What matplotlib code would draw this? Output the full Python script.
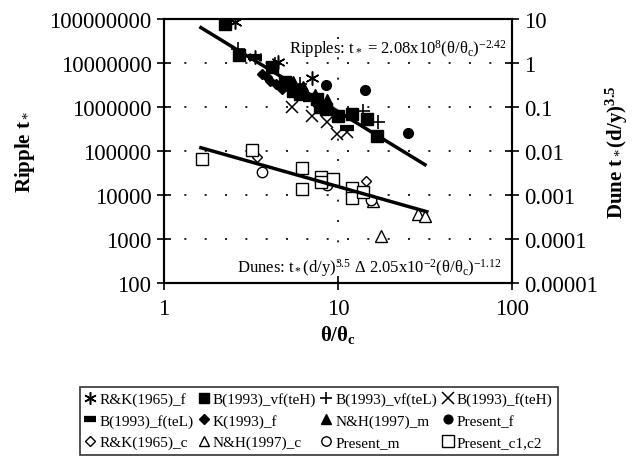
import matplotlib
matplotlib.use("Agg")
import matplotlib.pyplot as plt
import numpy as np

plt.rcParams['font.family'] = ['Liberation Serif', 'DejaVu Serif']
plt.rcParams['mathtext.fontset'] = 'custom'
plt.rcParams['mathtext.rm'] = 'Liberation Serif'
plt.rcParams['mathtext.it'] = 'Liberation Serif:italic'
plt.rcParams['mathtext.bf'] = 'Liberation Serif:bold'

# ---- ripple data (left axis) ----
rk65_f_x = [2.56, 3.33, 4.52, 7.09]
rk65_f_y = [8.5e7, 1.37e7, 1.05e7, 4.6e6]

b93_vf_teh_x = [2.24, 2.70, 4.18, 4.96, 5.5, 6.05, 7.57, 7.88, 8.5, 10.0, 12.0, 14.7, 16.8]
b93_vf_teh_y = [7.7e7, 1.52e7, 8.1e6, 3.7e6, 2.3e6, 1.97e6, 1.52e6, 1.0e6, 9e5, 6.2e5, 6.9e5, 5.3e5, 2.2e5]

b93_vf_tel_x = [2.66, 4.34, 6.05, 13.9, 17.0]
b93_vf_tel_y = [2.1e7, 9.5e6, 3.3e6, 8.1e5, 4.6e5]

b93_f_teh_x = [5.44, 7.09, 8.64, 9.87, 11.3]
b93_f_teh_y = [1.0e6, 6.2e5, 4.6e5, 2.4e5, 2.7e5]

b93_f_tel_x = [3.33, 5.89, 6.90, 7.88, 11.3]
b93_f_tel_y = [1.37e7, 2.85e6, 1.52e6, 1.17e6, 3.3e5]

k93_f_x = [3.66, 3.91, 4.07, 4.40, 4.77, 5.30, 5.66, 6.46]
k93_f_y = [5.6e6, 4.8e6, 3.9e6, 3.3e6, 2.57e6, 2.57e6, 2.31e6, 1.78e6]

nh97_m_x = [5.51, 6.29, 7.38, 8.64, 9.0]
nh97_m_y = [3.9e6, 3.0e6, 1.97e6, 1.52e6, 1.0e6]

present_f_x = [8.53, 14.3, 25.2]
present_f_y = [3.2e6, 2.4e6, 2.6e5]

# ---- dune data (right axis) ----
rk65_c_x = [3.42, 14.5]
rk65_c_y = [7.3e-3, 2.1e-3]

nh97_c_x = [15.9, 17.7, 28.8, 31.6]
nh97_c_y = [7.3e-4, 1.17e-4, 3.7e-4, 3.3e-4]

present_m_x = [3.66, 8.64, 15.5]
present_m_y = [3.3e-3, 1.69e-3, 7.7e-4]

present_c_x = [1.65, 3.2, 6.21, 6.21, 7.98, 7.98, 9.36, 12.0, 12.0, 13.9]
present_c_y = [6.6e-3, 1.05e-2, 4.1e-3, 1.37e-3, 2.57e-3, 1.97e-3, 2.3e-3, 1.44e-3, 8.5e-4, 1.17e-3]

# fitted power laws
ripple_fit = (2.08e8, -2.42)
ripple_fit_range = [1.63, 31.6]
dune_fit = (2.05e-2, -1.12)
dune_fit_range = [1.63, 32.4]

left_ticks = [1e2, 1e3, 1e4, 1e5, 1e6, 1e7, 1e8]
left_labels = ['100', '1000', '10000', '100000', '1000000', '10000000', '100000000']
right_ticks = [1e-5, 1e-4, 1e-3, 1e-2, 1e-1, 1, 10]
right_labels = ['0.00001', '0.0001', '0.001', '0.01', '0.1', '1', '10']
x_ticks = [1, 10, 100]
x_labels = ['1', '10', '100']

fig = plt.figure(figsize=(6.38, 4.64), dpi=100)
ax = fig.add_axes([164 / 638, 1 - 284 / 464, 348 / 638, 264 / 464])
ax2 = ax.twinx()

for a in (ax, ax2):
    a.set_xscale('log')
    a.set_yscale('log')
    for s in a.spines.values():
        s.set_linewidth(1.5)
ax.set_xlim(1, 100)
ax.set_ylim(1e2, 1e8)
ax2.set_ylim(1e-5, 10)

# grid (dotted)
for yv in left_ticks[1:-1]:
    ax.axhline(yv, color='black', lw=1.2, ls=(0, (1.2, 11)), zorder=0)
ax.axvline(10, color='black', lw=1.2, ls=(0, (1.2, 11)), zorder=0)

k = dict(color='black', linestyle='none')
h = {}
h['rk65_f'], = ax.plot(rk65_f_x, rk65_f_y, marker=(6, 2, 0), ms=10, mew=1.1, label='R&K(1965)_f', **k)
h['b_vf_teh'], = ax.plot(b93_vf_teh_x, b93_vf_teh_y, marker='s', ms=8, label='B(1993)_vf(teH)', **k)
h['b_vf_tel'], = ax.plot(b93_vf_tel_x, b93_vf_tel_y, marker='+', ms=10, mew=1.2, label='B(1993)_vf(teL)', **k)
h['b_f_teh'], = ax.plot(b93_f_teh_x, b93_f_teh_y, marker='x', ms=9, mew=1.1, label='B(1993)_f(teH)', **k)
h['b_f_tel'], = ax.plot(b93_f_tel_x, b93_f_tel_y, marker='_', ms=10, mew=4.5, label='B(1993)_f(teL)', **k)
h['k93'], = ax.plot(k93_f_x, k93_f_y, marker='D', ms=5.5, label='K(1993)_f', **k)
h['nh_m'], = ax.plot(nh97_m_x, nh97_m_y, marker='^', ms=7.5, label='N&H(1997)_m', **k)
h['pres_f'], = ax.plot(present_f_x, present_f_y, marker='o', ms=7, label='Present_f', **k)

xr = np.array(ripple_fit_range)
ax.plot(xr, ripple_fit[0] * xr ** ripple_fit[1], color='black', lw=2.5)

o = dict(color='black', linestyle='none', mfc='white', mew=1.0)
h['rk65_c'], = ax2.plot(rk65_c_x, rk65_c_y, marker='D', ms=5.5, label='R&K(1965)_c', **o)
h['nh_c'], = ax2.plot(nh97_c_x, nh97_c_y, marker='^', ms=8, label='N&H(1997)_c', **o)
h['pres_m'], = ax2.plot(present_m_x, present_m_y, marker='o', ms=7.5, label='Present_m', **o)
h['pres_c'], = ax2.plot(present_c_x, present_c_y, marker='s', ms=9, label='Present_c1,c2', **o)

xd = np.array(dune_fit_range)
ax2.plot(xd, dune_fit[0] * xd ** dune_fit[1], color='black', lw=2.5)

# ticks
ax.minorticks_off()
ax2.minorticks_off()
ax.set_xticks(x_ticks)
ax.set_xticklabels(x_labels)
ax.set_yticks(left_ticks)
ax.set_yticklabels(left_labels)
ax2.set_yticks(right_ticks)
ax2.set_yticklabels(right_labels)
ax.tick_params(axis='both', which='major', direction='inout', length=10, width=1.2,
               labelsize=16.5, pad=4)
ax.tick_params(axis='x', pad=6)
ax2.tick_params(axis='y', which='major', direction='inout', length=10, width=1.2,
                labelsize=16.5, pad=4)

ax.set_xlabel(r'θ/θ$_\mathbf{c}$', fontsize=15, fontweight='bold')
ax.xaxis.set_label_coords(0.5, -0.15)
ax.set_ylabel('Ripple t$_*$', fontsize=15, fontweight='bold')
ax.yaxis.set_label_coords(-0.365, 0.5)
ax2.set_ylabel(r'Dune t$_*$(d/y)$^{\mathbf{3.5}}$', fontsize=15, fontweight='bold')
ax2.yaxis.set_label_coords(1.265, 0.5)

ax.text(0.985, 0.89, r'Ripples: t$_*$ = 2.08x10$^{8}$(θ/θ$_{\rm c}$)$^{-2.42}$',
        transform=ax.transAxes, fontsize=12, ha='right', va='center')
ax.text(0.21, 0.06, r'Dunes: t$_*$(d/y)$^{3.5}$ Δ 2.05x10$^{-2}$(θ/θ$_{\rm c}$)$^{-1.12}$',
        transform=ax.transAxes, fontsize=12, ha='left', va='center')

# legend, column-major order so rows read as in the original
order = ['rk65_f', 'b_f_tel', 'rk65_c',
         'b_vf_teh', 'k93', 'nh_c',
         'b_vf_tel', 'nh_m', 'pres_m',
         'b_f_teh', 'pres_f', 'pres_c']
leg = fig.legend([h[n] for n in order], [h[n].get_label() for n in order],
                 loc='upper left', ncol=4, mode='expand',
                 bbox_to_anchor=(80 / 638, 1 / 464, 478 / 638, 75 / 464),
                 fancybox=False, edgecolor='black', fontsize=11,
                 handlelength=0.6, handletextpad=0.3, columnspacing=0.3,
                 borderpad=0.35, labelspacing=0.5, borderaxespad=0,
                 markerscale=0.9)
leg.get_frame().set_linewidth(1.2)

plt.savefig('out.png', dpi=100)
